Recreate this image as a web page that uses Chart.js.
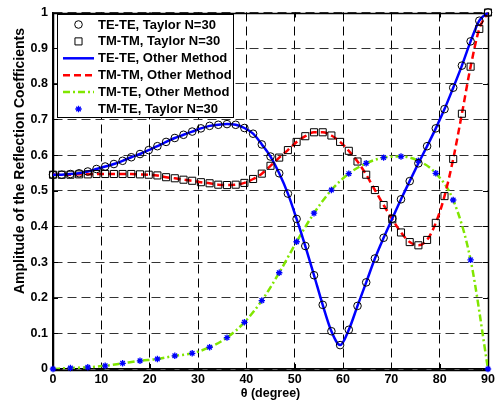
<!DOCTYPE html>
<html><head><meta charset="utf-8">
<script src="https://cdn.jsdelivr.net/npm/chart.js@4/dist/chart.umd.min.js"></script>
<style>html,body{margin:0;padding:0;background:#fff}#wrap{width:498px;height:406px}</style>
</head><body><div id="wrap"><canvas id="c" width="498" height="406"></canvas></div>
<script>
// ---- data ----
const thetaFine = [0,1.8,3.6,5.4,7.2,9,10.8,12.6,14.4,16.2,18,19.8,21.6,23.4,25.2,27,28.8,30.6,32.4,34.2,36,37.8,39.6,41.4,43.2,45,46.8,48.6,50.4,52.2,54,55.8,57.6,59.4,61.2,63,64.8,66.6,68.4,70.2,72,73.8,75.6,77.4,79.2,81,82.8,84.6,86.4,88.2,90];
const thetaCoarse = [0,3.6,7.2,10.8,14.4,18,21.6,25.2,28.8,32.4,36,39.6,43.2,46.8,50.4,54,57.6,61.2,64.8,68.4,72,75.6,79.2,82.8,86.4,90];
const teTe = [0.545,0.545,0.547,0.549,0.554,0.561,0.568,0.575,0.584,0.594,0.603,0.614,0.625,0.637,0.648,0.657,0.666,0.675,0.682,0.685,0.687,0.685,0.676,0.660,0.630,0.596,0.549,0.492,0.421,0.345,0.263,0.180,0.106,0.067,0.110,0.177,0.243,0.310,0.368,0.422,0.476,0.527,0.577,0.625,0.675,0.729,0.789,0.851,0.919,0.977,1.0];
const tmTm = [0.545,0.545,0.545,0.546,0.546,0.547,0.547,0.547,0.547,0.547,0.546,0.545,0.543,0.538,0.535,0.531,0.528,0.524,0.521,0.517,0.516,0.517,0.522,0.533,0.548,0.570,0.593,0.614,0.637,0.653,0.664,0.664,0.655,0.637,0.612,0.582,0.545,0.502,0.460,0.420,0.383,0.356,0.347,0.362,0.410,0.485,0.589,0.716,0.848,0.954,1.0];
const tmTe = [0,0.003,0.005,0.009,0.016,0.023,0.028,0.037,0.044,0.061,0.088,0.131,0.192,0.270,0.357,0.437,0.502,0.548,0.577,0.593,0.596,0.584,0.549,0.474,0.306,0];
const xTicks = [0,10,20,30,40,50,60,70,80,90];
const xTickLabels = ['0','10','20','30','40','50','60','70','80','90'];
const yTicks = [0,0.1,0.2,0.3,0.4,0.5,0.6,0.7,0.8,0.9,1];
const yTickLabels = ['0','0.1','0.2','0.3','0.4','0.5','0.6','0.7','0.8','0.9','1'];
const seriesLabels = ['TE-TE, Taylor N=30','TM-TM, Taylor N=30','TE-TE, Other Method','TM-TM, Other Method','TM-TE, Other Method','TM-TE, Taylor N=30'];
const xTitle = 'θ (degree)';
const yTitle = 'Amplitude of the Reflection Coefficients';

const pts = (xs, ys) => xs.map((x, i) => ({x: x, y: ys[i]}));
const FONT = '"Liberation Sans", Arial, sans-serif';

const datasets = [
  {label: seriesLabels[0], data: pts(thetaFine, teTe), showLine: false, pointStyle: 'circle', pointRadius: 3.8,
   borderColor: '#000', backgroundColor: 'rgba(0,0,0,0)', pointBorderWidth: 1, clip: false, order: 0},
  {label: seriesLabels[1], data: pts(thetaFine, tmTm), showLine: false, pointStyle: 'rect', pointRadius: 5,
   borderColor: '#000', backgroundColor: 'rgba(0,0,0,0)', pointBorderWidth: 1, clip: false, order: 0},
  {label: seriesLabels[2], data: pts(thetaFine, teTe), showLine: true, borderColor: '#0000ff', borderWidth: 2.5, pointRadius: 0,
   cubicInterpolationMode: 'monotone', fill: false, order: 2},
  {label: seriesLabels[3], data: pts(thetaFine, tmTm), showLine: true, borderColor: '#ff0000', borderWidth: 2.5, pointRadius: 0,
   borderDash: [7, 4], cubicInterpolationMode: 'monotone', fill: false, order: 2},
  {label: seriesLabels[4], data: pts(thetaCoarse, tmTe), showLine: true, borderColor: '#80e600', borderWidth: 2.5, pointRadius: 0,
   borderDash: [7, 3, 2, 3], cubicInterpolationMode: 'monotone', fill: false, order: 2},
  {label: seriesLabels[5], data: pts(thetaCoarse, tmTe), showLine: false, pointStyle: 'star', pointRadius: 3.2,
   borderColor: '#0000ff', backgroundColor: '#0000ff', pointBorderWidth: 1.3, clip: false, order: 1}
];

const framePlugin = {
  id: 'frame',
  beforeDatasetsDraw(chart) {
    const ctx = chart.ctx, a = chart.chartArea;
    const xs = chart.scales.x, ys = chart.scales.y;
    ctx.save();
    ctx.strokeStyle = '#000';
    ctx.lineWidth = 1;
    ctx.setLineDash([]);
    const L = 5;
    ctx.beginPath();
    xTicks.forEach(v => {
      const px = Math.round(xs.getPixelForValue(v)) + 0.5;
      ctx.moveTo(px, a.bottom); ctx.lineTo(px, a.bottom - L);
      ctx.moveTo(px, a.top); ctx.lineTo(px, a.top + L);
    });
    yTicks.forEach(v => {
      const py = Math.round(ys.getPixelForValue(v)) + 0.5;
      ctx.moveTo(a.left, py); ctx.lineTo(a.left + L, py);
      ctx.moveTo(a.right, py); ctx.lineTo(a.right - L, py);
    });
    ctx.stroke();
    ctx.lineWidth = 1.5;
    ctx.strokeRect(Math.round(a.left) + 0.5, Math.round(a.top) + 0.5, Math.round(a.right - a.left), Math.round(a.bottom - a.top));
    ctx.restore();
  },
  afterDraw(chart) {
    const ctx = chart.ctx;
    ctx.save();
    // legend
    const bx = 57, by = 14, bw = 176, bh = 103;
    ctx.fillStyle = '#fff';
    ctx.fillRect(bx, by, bw, bh);
    ctx.lineWidth = 1;
    ctx.strokeStyle = '#000';
    ctx.setLineDash([]);
    ctx.strokeRect(bx + 0.5, by + 0.5, bw, bh);
    const rowY0 = 24.5, rowStep = 16.9;
    chart.data.datasets.forEach((ds, i) => {
      const y = rowY0 + i * rowStep;
      ctx.save();
      if (ds.showLine === false) {
        ctx.setLineDash([]);
        ctx.strokeStyle = ds.borderColor;
        ctx.fillStyle = ds.backgroundColor;
        ctx.lineWidth = ds.pointBorderWidth;
        Chart.helpers.drawPoint(ctx, {pointStyle: ds.pointStyle, radius: ds.pointRadius, rotation: 0, borderWidth: ds.pointBorderWidth}, 78.5, y);
      } else {
        ctx.strokeStyle = ds.borderColor;
        ctx.lineWidth = ds.borderWidth;
        ctx.setLineDash(ds.borderDash || []);
        ctx.beginPath();
        ctx.moveTo(63, y); ctx.lineTo(94, y);
        ctx.stroke();
      }
      ctx.restore();
      ctx.fillStyle = '#000';
      ctx.font = 'bold 13px ' + FONT;
      ctx.textAlign = 'left';
      ctx.textBaseline = 'middle';
      ctx.fillText(ds.label, 98, y + 0.5);
    });

    // y title
    ctx.translate(20, 161);
    ctx.rotate(-Math.PI / 2);
    ctx.font = 'bold 14px ' + FONT;
    ctx.textAlign = 'center';
    ctx.textBaseline = 'middle';
    ctx.fillStyle = '#000';
    ctx.fillText(yTitle, 0, 0);
    ctx.restore();
  }
};

new Chart(document.getElementById('c'), {
  type: 'scatter',
  data: {datasets: datasets},
  options: {
    responsive: false,
    animation: false,
    devicePixelRatio: 1,
    events: [],
    layout: {padding: {top: 6, right: 10, left: 0, bottom: 0}},
    plugins: {legend: {display: false}, tooltip: {enabled: false}},
    scales: {
      x: {
        type: 'linear', min: 0, max: 90,
        afterBuildTicks: s => { s.ticks = xTicks.map(v => ({value: v})); },
        afterFit: s => { s.height = 37; },
        ticks: {autoSkip: false, maxRotation: 0, padding: 3, color: '#000',
                font: {family: FONT, size: 12.5, weight: 'bold'},
                callback: (v, i) => xTickLabels[i]},
        grid: {color: '#000', lineWidth: 1, drawTicks: false},
        border: {display: true, color: '#000', width: 1.5, dash: [9, 5]},
        title: {display: true, text: xTitle, color: '#000', padding: {top: 0, bottom: 5},
                font: {family: FONT, size: 12.5, weight: 'bold'}}
      },
      y: {
        type: 'linear', min: 0, max: 1,
        afterBuildTicks: s => { s.ticks = yTicks.map(v => ({value: v})); },
        afterFit: s => { s.width = 53; },
        ticks: {autoSkip: false, padding: 5, color: '#000',
                font: {family: FONT, size: 12.5, weight: 'bold'},
                callback: (v, i) => yTickLabels[i]},
        grid: {color: '#333', lineWidth: 1, drawTicks: false},
        border: {display: true, color: '#000', width: 1.5, dash: [9, 5]}
      }
    }
  },
  plugins: [framePlugin]
});
</script>
</body></html>
